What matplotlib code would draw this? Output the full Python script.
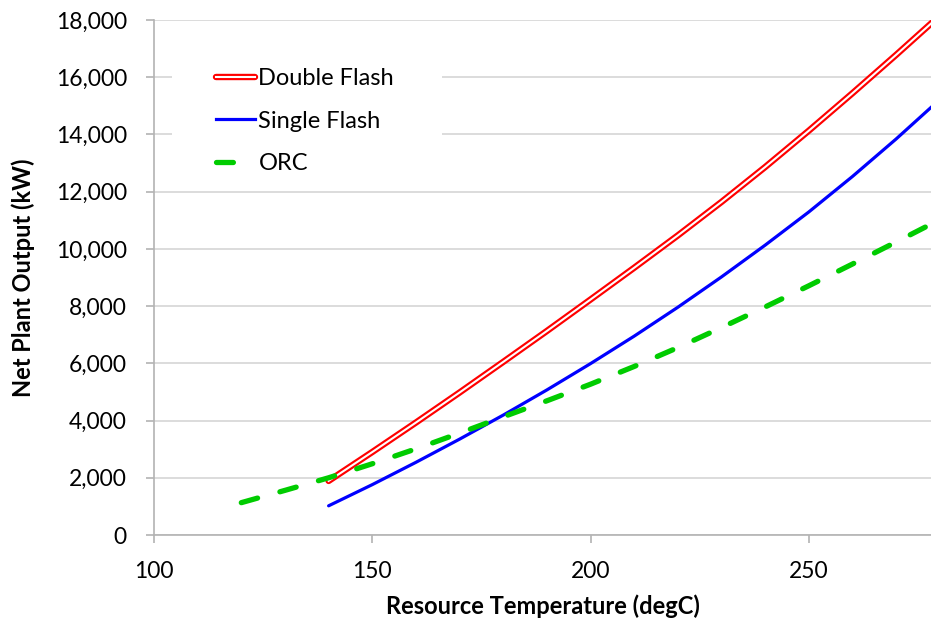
import matplotlib
matplotlib.use("Agg")
import matplotlib.pyplot as plt
from matplotlib.lines import Line2D
from matplotlib.patches import Rectangle
from matplotlib.ticker import FuncFormatter, MultipleLocator

plt.rcParams['font.family'] = ['Lato', 'DejaVu Sans']

# temperatures (degC) and net output (kW)
temp_flash = [140, 150, 160, 170, 180, 190, 200, 210, 220, 230, 240, 250, 260, 270, 280]
double_flash = [1890, 2900, 3930, 4980, 6050, 7130, 8230, 9340, 10470, 11640, 12860, 14130, 15440, 16780, 18150]
single_flash = [1020, 1760, 2540, 3350, 4190, 5070, 5990, 6950, 7960, 9020, 10130, 11290, 12530, 13840, 15220]

temp_orc = [120, 130, 140, 150, 160, 170, 180, 190, 200, 210, 220, 230, 240, 250, 260, 270, 280]
orc = [1130, 1560, 2000, 2490, 3010, 3560, 4130, 4690, 5270, 5890, 6550, 7250, 7970, 8710, 9470, 10240, 11020]

fig = plt.figure(figsize=(9.31, 6.24), dpi=100)
ax = fig.add_axes([154 / 931, 89 / 624, 1 - 154 / 931, 515 / 624])

grid_c = '#d9d9d9'
axis_c = '#b3b3b3'

ax.plot(temp_flash, single_flash, color='#0000ff', lw=2.3, solid_capstyle='round', zorder=3)
red, = ax.plot(temp_flash, double_flash, color='#ff0000', lw=4.6, solid_capstyle='round', zorder=4)
white, = ax.plot(temp_flash, double_flash, color='white', lw=1.5, zorder=5)
green, = ax.plot(temp_orc, orc, color='#00cc00', lw=3.8, dashes=(3.2, 4.4),
                 dash_capstyle='round', zorder=6)
blue = Line2D([], [], color='#0000ff', lw=2.3)

ax.set_xlim(100, 278)
ax.set_ylim(0, 18000)
ax.xaxis.set_major_locator(MultipleLocator(50))
ax.yaxis.set_major_locator(MultipleLocator(2000))
ax.yaxis.set_major_formatter(FuncFormatter(lambda v, p: f'{int(v):,}'))

ax.grid(axis='y', color=grid_c, lw=1.3)
ax.set_axisbelow(True)
for s in ['top', 'right']:
    ax.spines[s].set_visible(False)
for s in ['left', 'bottom']:
    ax.spines[s].set_color(axis_c)
    ax.spines[s].set_linewidth(1.2)
ax.tick_params(axis='both', colors=axis_c, length=5.5, width=1.2, labelsize=16.5, labelcolor='black')
ax.tick_params(axis='x', pad=13)
ax.tick_params(axis='y', pad=14)

ax.set_xlabel('Resource Temperature (degC)', fontsize=17, fontweight='bold', labelpad=9)
ax.set_ylabel('Net Plant Output (kW)', fontsize=17, fontweight='bold', labelpad=15)

# white legend background hiding the gridlines behind it
ax.add_patch(Rectangle((0.023, 0.69), 0.348, 0.235, transform=ax.transAxes,
                       facecolor='white', edgecolor='none', zorder=1))

leg = ax.legend([(red, white), blue, green], ['Double Flash', 'Single Flash', 'ORC'],
                loc='upper left', bbox_to_anchor=(216 / 931, 1 - 68 / 624),
                bbox_transform=fig.transFigure, fontsize=17, frameon=False,
                handlelength=1.65, handletextpad=0.15, labelspacing=0.92,
                borderpad=0, borderaxespad=0)
leg.set_zorder(10)

fig.savefig('out.png', dpi=100)
